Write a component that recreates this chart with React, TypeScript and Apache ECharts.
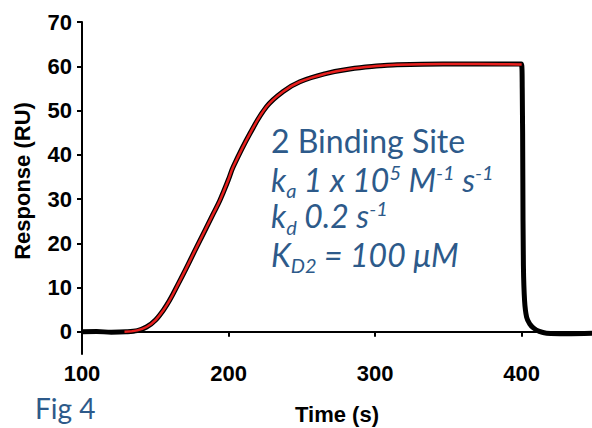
import React, { useEffect, useRef } from "react";
import * as echarts from "echarts";

const dataTime = [100, 110, 120, 130, 144, 155.5, 167, 178.3, 189.6, 194.2, 199.8, 203.2, 214.6, 226, 237.3, 248.7, 267, 282.8, 303.3, 312.2, 346.3, 370, 399.8, 400.4, 400.8, 401.2, 402, 403.4, 405.5, 408, 412, 417, 430, 448];
const dataResp = [0, 0.1, -0.1, 0, 1.1, 4.9, 11.7, 19.2, 26.7, 29.8, 34.3, 37.3, 44.8, 50.9, 54.3, 56.5, 58.4, 59.4, 60.1, 60.3, 60.5, 60.5, 60.5, 55, 35, 15, 7, 3.3, 1.8, 0.9, 0.1, -0.3, -0.4, -0.3];

// Fitted curve (red)
const fitTime = [129, 144, 155.5, 167, 178.3, 189.6, 194.2, 199.8, 203.2, 214.6, 226, 237.3, 248.7, 267, 282.8, 303.3, 312.2, 346.3, 370, 400];
const fitResp = [0, 1.1, 4.9, 11.7, 19.2, 26.7, 29.8, 34.3, 37.3, 44.8, 50.9, 54.3, 56.5, 58.4, 59.4, 60.1, 60.3, 60.5, 60.5, 60.4];

const xTicks = [100, 200, 300, 400];
const yTicks = [0, 10, 20, 30, 40, 50, 60, 70];

const BLUE = "#2D5A8A";

export default function App() {
  const ref = useRef<HTMLDivElement>(null);
  useEffect(() => {
    if (!ref.current) return;
    const chart = echarts.init(ref.current, null, { renderer: "svg" });
    const pair = (xs: number[], ys: number[]) => xs.map((x, i) => [x, ys[i]]);
    const base = { fontFamily: "Lato", fill: BLUE };
    const rich = {
      i: { fontFamily: "Lato", fontSize: 32, fontStyle: "italic", fill: BLUE, lineHeight: 36 },
      sub: { fontFamily: "Lato", fontSize: 20, fontStyle: "italic", fill: BLUE, lineHeight: 36, padding: [22, 0, 0, 0] },
      sup: { fontFamily: "Lato", fontSize: 20, fontStyle: "italic", fill: BLUE, lineHeight: 36, padding: [0, 0, 15, 0] },
    };
    chart.setOption({
      animation: false,
      grid: { left: 82, right: 0, top: 22, bottom: 74, containLabel: false, outerBoundsMode: "none" },
      xAxis: {
        type: "value",
        min: 100,
        max: 448,
        interval: 100,
        name: "Time (s)",
        nameLocation: "middle",
        nameGap: 49,
        nameTextStyle: { fontFamily: "Liberation Sans", fontWeight: "bold", fontSize: 22, color: "#000" },
        axisLine: { lineStyle: { color: "#000", width: 2 } },
        axisTick: { show: true, inside: false, length: 5, lineStyle: { color: "#000", width: 2 }, customValues: xTicks },
        axisLabel: { customValues: xTicks, fontFamily: "Liberation Sans", fontWeight: "bold", fontSize: 22, color: "#000", margin: 8 },
        splitLine: { show: false },
      },
      yAxis: {
        type: "value",
        min: -5,
        max: 70,
        interval: 5,
        name: "Response (RU)",
        nameLocation: "middle",
        nameGap: 49,
        nameRotate: 90,
        nameTextStyle: { fontFamily: "Liberation Sans", fontWeight: "bold", fontSize: 22, color: "#000", padding: [0, 0, 0, 14] },
        axisLine: { show: true, lineStyle: { color: "#000", width: 2 } },
        axisTick: { show: true, inside: false, length: 5, lineStyle: { color: "#000", width: 2 }, customValues: yTicks },
        axisLabel: { customValues: yTicks, fontFamily: "Liberation Sans", fontWeight: "bold", fontSize: 22, color: "#000", margin: 10 },
        splitLine: { show: false },
      },
      series: [
        {
          type: "line",
          data: pair(dataTime, dataResp),
          showSymbol: false,
          smooth: 0.4,
          lineStyle: { color: "#000", width: 5 },
          clip: true,
          z: 2,
        },
        {
          type: "line",
          data: pair(fitTime, fitResp),
          showSymbol: false,
          smooth: 0.4,
          lineStyle: { color: "#E8201E", width: 2.5 },
          z: 3,
        },
      ],
      graphic: [
        { type: "text", x: 271, y: 140.3, style: { ...base, text: "2 Binding Site", fontSize: 32, verticalAlign: "middle" } },
        { type: "text", x: 271, y: 179.3, style: { text: "{i|k}{sub|a}{i| 1 x 10}{sup|5}{i| M}{sup|-1}{i| s}{sup|-1}", rich, verticalAlign: "middle" } },
        { type: "text", x: 271, y: 215.6, style: { text: "{i|k}{sub|d}{i| 0.2 s}{sup|-1}", rich, verticalAlign: "middle" } },
        { type: "text", x: 271, y: 254.3, style: { text: "{i|K}{sub|D2}{i| = 100 μM}", rich, verticalAlign: "middle" } },
        { type: "text", x: 35, y: 407.5, style: { ...base, text: "Fig 4", fontSize: 28, verticalAlign: "middle" } },
      ],
    });
    return () => chart.dispose();
  }, []);
  return <div ref={ref} style={{ position: "fixed", left: 0, top: 0, width: 592, height: 428, background: "#fff" }} />;
}
